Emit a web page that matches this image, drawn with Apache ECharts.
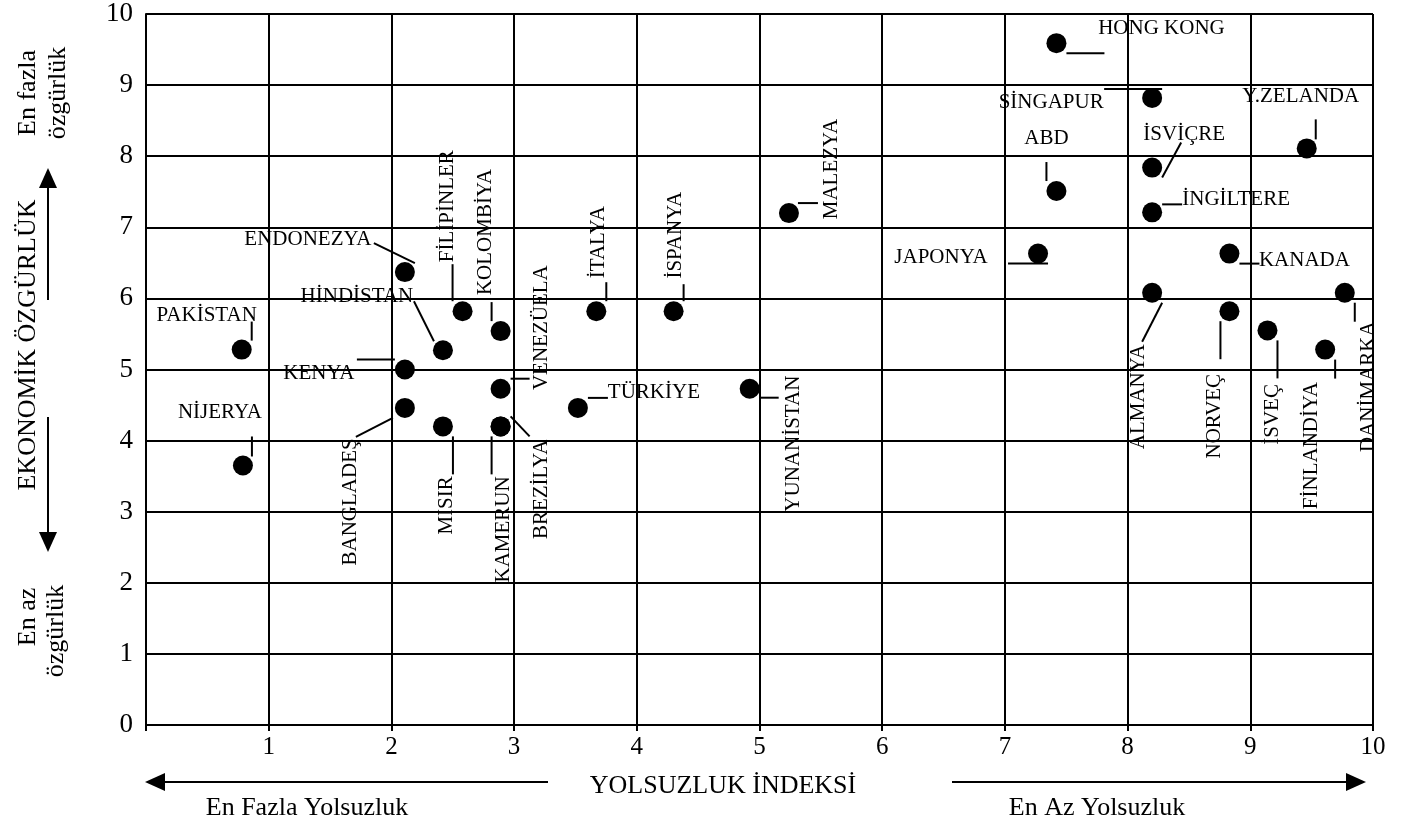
<!DOCTYPE html>
<html>
<head>
<meta charset="utf-8">
<title>Yolsuzluk İndeksi ve Ekonomik Özgürlük</title>
<script src="https://cdn.jsdelivr.net/npm/echarts@6/dist/echarts.min.js"></script>
<style>
  html, body { margin: 0; padding: 0; background: #fff; }
  #chart { width: 1417px; height: 824px; }
</style>
</head>
<body>
<div id="chart"></div>
<script>
const FONT = '"Liberation Serif", "Times New Roman", serif';

const COUNTRIES = [
  'PAKİSTAN', 'NİJERYA', 'ENDONEZYA', 'HİNDİSTAN', 'KENYA', 'BANGLADEŞ',
  'MISIR', 'KAMERUN', 'BREZİLYA', 'VENEZÜELA', 'KOLOMBİYA', 'FİLİPİNLER',
  'İTALYA', 'İSPANYA', 'TÜRKİYE', 'YUNANİSTAN', 'MALEZYA', 'JAPONYA',
  'HONG KONG', 'SİNGAPUR', 'Y.ZELANDA', 'ABD', 'İSVİÇRE', 'İNGİLTERE',
  'KANADA', 'ALMANYA', 'NORVEÇ', 'İSVEÇ', 'FİNLANDİYA', 'DANİMARKA'
];

// yolsuzluk indeksi (x)
const CORRUPTION_INDEX = [
  0.78, 0.79, 2.11, 2.42, 2.11, 2.11,
  2.42, 2.89, 2.89, 2.89, 2.89, 2.58,
  3.67, 4.30, 3.52, 4.92, 5.24, 7.27,
  7.42, 8.20, 9.46, 7.42, 8.20, 8.20,
  8.83, 8.20, 8.83, 9.14, 9.61, 9.77
];

// ekonomik özgürlük (y)
const ECONOMIC_FREEDOM = [
  5.28, 3.65, 6.37, 5.27, 5.00, 4.46,
  4.20, 4.20, 4.20, 4.73, 5.54, 5.82,
  5.82, 5.82, 4.46, 4.73, 7.20, 6.63,
  9.59, 8.82, 8.11, 7.51, 7.84, 7.21,
  6.63, 6.08, 5.82, 5.55, 5.28, 6.08
];

// label placement relative to the dot, in px: text centre, rotation, leader line
const LABEL_LAYOUT = {
  'PAKİSTAN':   { text: [-35, -34],  rotate: false, line: [10, -28, 10, -9] },
  'NİJERYA':    { text: [-23, -53],  rotate: false, line: [9, -29, 9, -9] },
  'ENDONEZYA':  { text: [-97, -33],  rotate: false, line: [-31, -29, 10, -9] },
  'HİNDİSTAN':  { text: [-86, -54],  rotate: false, line: [-29, -49, -9, -9] },
  'KENYA':      { text: [-86, 4],    rotate: false, line: [-48, -10, -10, -10] },
  'BANGLADEŞ':  { text: [-54, 94],   rotate: true,  line: [-49, 29, -12, 10] },
  'MISIR':      { text: [4, 79],     rotate: true,  line: [10, 10, 10, 48] },
  'KAMERUN':    { text: [3, 103],    rotate: true,  line: [-9, 10, -9, 48] },
  'BREZİLYA':   { text: [41, 63],    rotate: true,  line: [10, -10, 29, 10] },
  'VENEZÜELA':  { text: [41, -61],   rotate: true,  line: [10, -10, 29, -10] },
  'KOLOMBİYA':  { text: [-15, -99],  rotate: true,  line: [-9, -29, -9, -10] },
  'FİLİPİNLER': { text: [-15, -105], rotate: true,  line: [-10, -47, -10, -10] },
  'İTALYA':     { text: [2, -69],    rotate: true,  line: [10, -29, 10, -10] },
  'İSPANYA':    { text: [2, -76],    rotate: true,  line: [10, -27, 10, -10] },
  'TÜRKİYE':    { text: [76, -15],   rotate: false, line: [10, -10, 30, -10] },
  'YUNANİSTAN': { text: [44, 55],    rotate: true,  line: [10, 9, 29, 9] },
  'MALEZYA':    { text: [43, -44],   rotate: true,  line: [9, -10, 29, -10] },
  'JAPONYA':    { text: [-97, 4],    rotate: false, line: [-30, 10, 10, 10] },
  'HONG KONG':  { text: [105, -15],  rotate: false, line: [10, 10, 48, 10] },
  'SİNGAPUR':   { text: [-101, 5],   rotate: false, line: [-48, -9, 10, -9] },
  'Y.ZELANDA':  { text: [-6, -52],   rotate: false, line: [9, -29, 9, -9] },
  'ABD':        { text: [-10, -53],  rotate: false, line: [-10, -29, -10, -10] },
  'İSVİÇRE':    { text: [32, -33],   rotate: false, line: [29, -25, 10, 10] },
  'İNGİLTERE':  { text: [84, -13],   rotate: false, line: [10, -8, 30, -8] },
  'KANADA':     { text: [75, 7],     rotate: false, line: [10, 10, 30, 10] },
  'ALMANYA':    { text: [-14, 104],  rotate: true,  line: [10, 10, -10, 49] },
  'NORVEÇ':     { text: [-15, 105],  rotate: true,  line: [-9, 10, -9, 48] },
  'İSVEÇ':      { text: [5, 84],     rotate: true,  line: [10, 10, 10, 48] },
  'FİNLANDİYA': { text: [-14, 96],   rotate: true,  line: [10, 10, 10, 29] },
  'DANİMARKA':  { text: [24, 94],    rotate: true,  line: [10, 10, 10, 29] }
};

let points = COUNTRIES.map((name, i) => [CORRUPTION_INDEX[i], ECONOMIC_FREEDOM[i], name]);

function renderLabel(params, api) {
  let layout = LABEL_LAYOUT[COUNTRIES[params.dataIndex]];
  let [px, py] = api.coord([api.value(0), api.value(1)]);
  let [tx, ty] = layout.text;
  let [x1, y1, x2, y2] = layout.line;

  return {
    type: 'group',
    children: [
      {
        type: 'line',
        shape: { x1: px + x1, y1: py + y1, x2: px + x2, y2: py + y2 },
        style: { stroke: '#000', lineWidth: 2 }
      },
      {
        type: 'text',
        x: px + tx,
        y: py + ty,
        rotation: layout.rotate ? Math.PI / 2 : 0,
        style: {
          text: COUNTRIES[params.dataIndex],
          fill: '#000',
          font: '21px ' + FONT,
          align: 'center',
          verticalAlign: 'middle'
        }
      }
    ]
  };
}

function text(str, x, y, size, rotate) {
  return {
    type: 'text',
    x: x,
    y: y,
    rotation: rotate ? Math.PI / 2 : 0,
    style: {
      text: str,
      fill: '#000',
      font: size + 'px ' + FONT,
      align: 'center',
      verticalAlign: 'middle'
    }
  };
}

function arrow(x1, y1, x2, y2) {
  let len = Math.hypot(x2 - x1, y2 - y1);
  let ux = (x2 - x1) / len;
  let uy = (y2 - y1) / len;
  let head = 20;
  let half = 9;
  let bx = x2 - ux * head;
  let by = y2 - uy * head;

  return {
    type: 'group',
    children: [
      {
        type: 'line',
        shape: { x1: x1, y1: y1, x2: bx, y2: by },
        style: { stroke: '#000', lineWidth: 2 }
      },
      {
        type: 'polygon',
        shape: { points: [[x2, y2], [bx - uy * half, by + ux * half], [bx + uy * half, by - ux * half]] },
        style: { fill: '#000' }
      }
    ]
  };
}

let chart = echarts.init(document.getElementById('chart'));

let axisCommon = {
  type: 'value',
  min: 0,
  max: 10,
  interval: 1,
  axisLine: { show: true, lineStyle: { color: '#000', width: 2 } },
  splitLine: { show: true, lineStyle: { color: '#000', width: 2 } }
};

chart.setOption({
  animation: false,
  backgroundColor: '#fff',
  grid: {
    left: 146,
    right: 44,
    top: 14,
    bottom: 99,
    containLabel: false,
    outerBoundsMode: 'none'
  },
  xAxis: Object.assign({}, axisCommon, {
    axisTick: { show: true, length: 6, lineStyle: { color: '#000', width: 2 } },
    axisLabel: {
      color: '#000',
      fontFamily: FONT,
      fontSize: 25,
      margin: 10,
      formatter: v => (v === 0 ? '' : String(v))
    }
  }),
  yAxis: Object.assign({}, axisCommon, {
    axisTick: { show: false },
    axisLabel: {
      color: '#000',
      fontFamily: FONT,
      fontSize: 27,
      margin: 13
    }
  }),
  graphic: [
    text('YOLSUZLUK İNDEKSİ', 723, 786, 26, false),
    text('En Fazla Yolsuzluk', 307, 808, 26, false),
    text('En Az Yolsuzluk', 1097, 808, 26, false),
    arrow(548, 782, 145, 782),
    arrow(952, 782, 1366, 782),
    text('EKONOMİK ÖZGÜRLÜK', 28, 345, 26, true),
    text('En fazla', 28, 93, 26, true),
    text('özgürlük', 58, 93, 26, true),
    text('En az', 28, 617, 26, true),
    text('özgürlük', 56, 631, 26, true),
    arrow(48, 300, 48, 168),
    arrow(48, 417, 48, 552)
  ],
  series: [
    {
      type: 'scatter',
      data: points,
      symbol: 'circle',
      symbolSize: 20,
      itemStyle: { color: '#000', opacity: 1 },
      emphasis: { disabled: true },
      silent: true,
      z: 3
    },
    {
      type: 'custom',
      data: points,
      encode: { x: 0, y: 1 },
      renderItem: renderLabel,
      clip: false,
      silent: true,
      z: 4
    }
  ]
});
</script>
</body>
</html>
